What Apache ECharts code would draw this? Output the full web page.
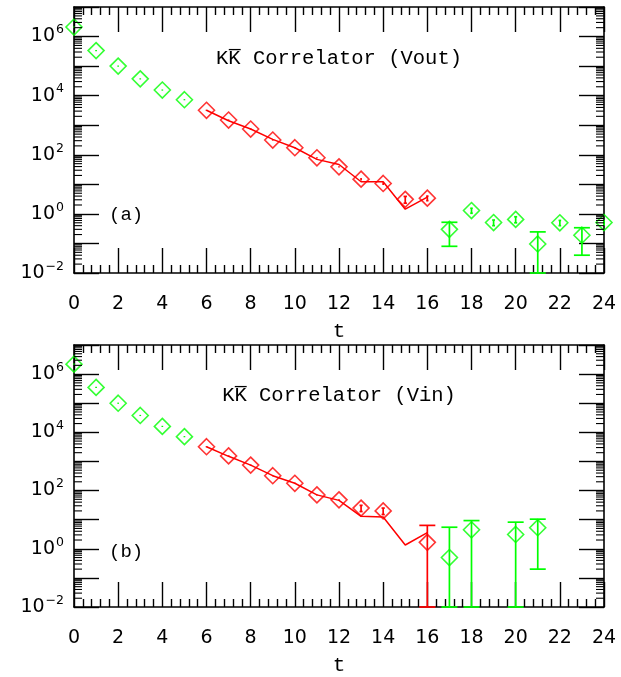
<!DOCTYPE html>
<html>
<head>
<meta charset="utf-8">
<script src="https://cdn.jsdelivr.net/npm/echarts@6/dist/echarts.min.js"></script>
<style>
  html, body { margin: 0; padding: 0; background: #ffffff; }
  #chart { width: 621px; height: 677px; }
</style>
</head>
<body>
<div id="chart"></div>
<script>
// ---- K Kbar correlator data -------------------------------------------
// Panel (a): Vout
const tOut = [0, 1, 2, 3, 4, 5, 6, 7, 8, 9, 10, 11, 12, 13, 14, 15, 16, 17, 18, 19, 20, 21, 22, 23, 24];
const corrOut = [2.1e6, 3.35e5, 1.0e5, 3.7e4, 1.55e4, 7.3e3, 3.2e3, 1.5e3, 743, 315, 173, 79, 39,
                 15, 10.7, 3.1, 3.4, 0.30, 1.30, 0.51, 0.65, 0.096, 0.50, 0.19, 0.51];
const errOut = [4e4, 7e3, 2e3, 800, 350, 170, 70, 35, 18, 8, 5, 3, 2,
                1.5, 1.2, 0.8, 0.6, 0.22, 0.25, 0.11, 0.15, 0.15, 0.10, 0.15, 0.08];
const fitOut = [3.2e3, 1.42e3, 743, 333, 173, 70, 47, 12.2, 12.2, 1.44, 3.68];

// Panel (b): Vin
const tIn = [0, 1, 2, 3, 4, 5, 6, 7, 8, 9, 10, 11, 12, 13, 14, 16, 17, 18, 20, 21];
const corrIn = [2.2e6, 3.5e5, 1.0e5, 3.8e4, 1.6e4, 7.1e3, 3.2e3, 1.55e3, 748, 324, 178, 71, 48,
                25, 20, 1.66, 0.50, 4.5, 3.1, 5.3];
const errIn = [4e4, 7e3, 2e3, 800, 350, 170, 70, 35, 18, 8, 5, 3, 2,
               6, 5, 4.7, 5.0, 4.8, 5.1, 5.1];
const fitIn = [3.2e3, 1.5e3, 748, 324, 178, 71, 46, 13, 12.4, 1.35, 3.6];

// Fit window (time slices drawn in red)
const fitT = [6, 7, 8, 9, 10, 11, 12, 13, 14, 15, 16];

// Axis ranges and tick labels
const tMin = 0, tMax = 24, tStep = 2;
const yMin = 1e-2, yMax = 1e7;
const panelTitles = ['KK\u0305 Correlator (Vout)', 'KK\u0305 Correlator (Vin)'];
const panelTags = ['(a)', '(b)'];
const xName = 't';

// ---- styling -----------------------------------------------------------
const GREEN = '#00ff00';
const RED = '#ff0000';
const INK = '#000000';
const NUM_FONT = 'DejaVu Sans';
const TEXT_FONT = 'Liberation Mono';

const inFit = t => t >= fitT[0] && t <= fitT[fitT.length - 1];

// log-spaced minor tick positions (2..9 x 10^k)
const minorVals = [];
for (let k = Math.log10(yMin); k < Math.log10(yMax); k++) {
  for (let m = 2; m <= 9; m++) minorVals.push([tMin, m * Math.pow(10, k)]);
}

const grids = [
  { left: 74, top: 7, width: 530, height: 266 },
  { left: 74, top: 345, width: 530, height: 265 }
];

function supLabel(v) {
  const e = Math.round(Math.log10(v));
  if (e % 2 !== 0) return '';
  const s = e < 0 ? '\u2212' + (-e) : String(e);
  return '{b|10}{s|' + s + '}';
}

function xAxes(gi) {
  const base = {
    type: 'value', gridIndex: gi, min: tMin, max: tMax, interval: tStep,
    axisLine: { show: true, onZero: false, lineStyle: { color: INK, width: 1.6 } },
    axisTick: { show: true, inside: true, length: 25, lineStyle: { color: INK, width: 1.4 } },
    minorTick: { show: true, splitNumber: 5, length: 8, lineStyle: { color: INK, width: 1.4 } },
    splitLine: { show: false }
  };
  return [
    Object.assign({}, base, {
      position: 'bottom',
      name: xName, nameLocation: 'middle', nameGap: 48,
      nameTextStyle: { fontFamily: TEXT_FONT, fontSize: 21, color: INK },
      axisLabel: { show: true, margin: 22, fontFamily: NUM_FONT, fontSize: 19, color: INK }
    }),
    Object.assign({}, base, { position: 'top', axisLabel: { show: false } })
  ];
}

function yAxes(gi) {
  const base = {
    type: 'log', logBase: 10, gridIndex: gi, min: yMin, max: yMax, splitNumber: 9,
    axisLine: { show: true, onZero: false, lineStyle: { color: INK, width: 1.6 } },
    axisTick: { show: true, inside: true, length: 25, lineStyle: { color: INK, width: 1.4 } },
    minorTick: { show: false },
    splitLine: { show: false }
  };
  return [
    Object.assign({}, base, {
      position: 'left',
      axisLabel: {
        show: true, margin: 10, formatter: supLabel,
        rich: {
          b: { fontFamily: NUM_FONT, fontSize: 19, color: INK },
          s: { fontFamily: NUM_FONT, fontSize: 12.5, color: INK, padding: [0, 0, 13, 1] }
        }
      }
    }),
    Object.assign({}, base, { position: 'right', axisLabel: { show: false } })
  ];
}

function errorBars(params, api) {
  const t = api.value(0), v = api.value(1), e = api.value(2);
  const color = inFit(t) ? RED : GREEN;
  const hi = v + e;
  const lo = Math.max(v - e, yMin);
  const pTop = api.coord([t, hi]);
  const pBot = api.coord([t, lo]);
  let y1 = pTop[1], y2 = pBot[1];
  const len = y2 - y1;
  if (len < 1) { const c = (y1 + y2) / 2; y1 = c - 0.6; y2 = c + 0.6; }
  const cap = len < 14 ? Math.max(len * 0.25, 0) : 8;
  const st = { stroke: color, lineWidth: 1.7 };
  const kids = [{ type: 'line', shape: { x1: pTop[0], y1: y1, x2: pTop[0], y2: y2 }, style: st }];
  if (cap > 0.8) {
    kids.push({ type: 'line', shape: { x1: pTop[0] - cap, y1: y1, x2: pTop[0] + cap, y2: y1 }, style: st });
    kids.push({ type: 'line', shape: { x1: pTop[0] - cap, y1: y2, x2: pTop[0] + cap, y2: y2 }, style: st });
  }
  return { type: 'group', children: kids };
}

function minorTicks(params, api) {
  const v = api.value(1);
  const pL = api.coord([tMin, v]);
  const pR = api.coord([tMax, v]);
  const st = { stroke: INK, lineWidth: 1.1 };
  return {
    type: 'group', children: [
      { type: 'line', shape: { x1: pL[0], y1: pL[1], x2: pL[0] + 8, y2: pL[1] }, style: st },
      { type: 'line', shape: { x1: pR[0] - 8, y1: pR[1], x2: pR[0], y2: pR[1] }, style: st }
    ]
  };
}

function panelSeries(gi, ts, corr, err, fit) {
  const xi = gi * 2, yi = gi * 2;
  const pts = ts.map((t, i) => [t, corr[i], err[i]]);
  return [
    {
      type: 'custom', xAxisIndex: xi, yAxisIndex: yi, renderItem: minorTicks,
      data: minorVals, silent: true, clip: false, z: 5
    },
    {
      type: 'line', xAxisIndex: xi, yAxisIndex: yi,
      data: fitT.map((t, i) => [t, fit[i]]),
      showSymbol: false, symbol: 'none', silent: true,
      lineStyle: { color: RED, width: 1.5 }, z: 3
    },
    {
      type: 'scatter', xAxisIndex: xi, yAxisIndex: yi,
      data: pts.map(p => ({ value: p, itemStyle: { borderColor: inFit(p[0]) ? RED : GREEN } })),
      symbol: 'diamond', symbolSize: 16, clip: false, silent: true,
      itemStyle: { color: 'rgba(0,0,0,0)', borderWidth: 1.6 }, z: 4
    },
    {
      type: 'custom', xAxisIndex: xi, yAxisIndex: yi, renderItem: errorBars,
      data: pts, silent: true, clip: false, z: 4
    }
  ];
}

const chart = echarts.init(document.getElementById('chart'), null, { renderer: 'canvas' });

const titleStyle = { fontFamily: TEXT_FONT, fontSize: 20.5, fill: INK, align: 'center', verticalAlign: 'middle' };
const tagStyle = { fontFamily: TEXT_FONT, fontSize: 19, fill: INK, align: 'left', verticalAlign: 'middle' };

chart.setOption({
  animation: false,
  backgroundColor: '#ffffff',
  grid: grids,
  xAxis: [].concat(xAxes(0), xAxes(1)),
  yAxis: [].concat(yAxes(0), yAxes(1)),
  series: [].concat(
    panelSeries(0, tOut, corrOut, errOut, fitOut),
    panelSeries(1, tIn, corrIn, errIn, fitIn)
  ),
  graphic: [
    { type: 'text', x: 339, y: 59, z: 10, style: Object.assign({ text: panelTitles[0] }, titleStyle) },
    { type: 'text', x: 339, y: 396, z: 10, style: Object.assign({ text: panelTitles[1] }, titleStyle) },
    { type: 'text', x: 109, y: 215, z: 10, style: Object.assign({ text: panelTags[0] }, tagStyle) },
    { type: 'text', x: 109, y: 552, z: 10, style: Object.assign({ text: panelTags[1] }, tagStyle) }
  ]
});
</script>
</body>
</html>
